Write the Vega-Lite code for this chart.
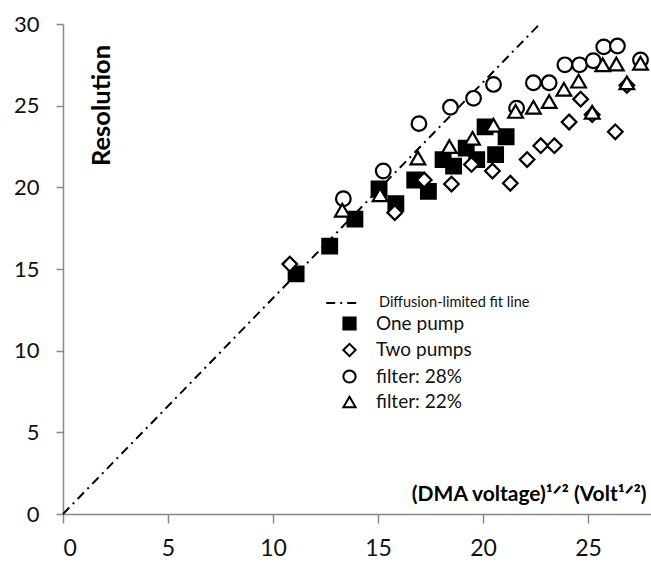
{
  "$schema": "https://vega.github.io/schema/vega-lite/v6.json",
  "width": 588,
  "height": 490,
  "autosize": {"type": "none"},
  "padding": {"left": 63, "top": 24, "right": 0, "bottom": 48},
  "background": "white",
  "config": {
    "view": {"stroke": null},
    "font": "Lato",
    "axis": {"grid": false, "domainColor": "#888", "tickColor": "#888", "domainWidth": 1.5, "tickWidth": 1.5, "labelColor": "#111", "labelFont": "Lato", "titleFont": "Lato", "titleColor": "#000"},
    "legend": {"labelFont": "Lato", "labelColor": "#111"}
  },
  "datasets": {
    "fit": [
      {"x": 0, "y": 0, "name": "Diffusion-limited fit line"},
      {"x": 22.7, "y": 30, "name": "Diffusion-limited fit line"}
    ],
    "pts": [
      {"x": 11.1, "y": 14.7, "series": "One pump"},
      {"x": 12.7, "y": 16.4, "series": "One pump"},
      {"x": 13.9, "y": 18.05, "series": "One pump"},
      {"x": 15.05, "y": 19.9, "series": "One pump"},
      {"x": 15.85, "y": 19.0, "series": "One pump"},
      {"x": 16.75, "y": 20.45, "series": "One pump"},
      {"x": 17.4, "y": 19.75, "series": "One pump"},
      {"x": 18.1, "y": 21.7, "series": "One pump"},
      {"x": 18.6, "y": 21.3, "series": "One pump"},
      {"x": 19.2, "y": 22.4, "series": "One pump"},
      {"x": 19.7, "y": 21.7, "series": "One pump"},
      {"x": 20.1, "y": 23.7, "series": "One pump"},
      {"x": 20.6, "y": 22.0, "series": "One pump"},
      {"x": 21.1, "y": 23.1, "series": "One pump"},
      {"x": 10.8, "y": 15.3, "series": "Two pumps"},
      {"x": 15.8, "y": 18.45, "series": "Two pumps"},
      {"x": 17.2, "y": 20.45, "series": "Two pumps"},
      {"x": 18.5, "y": 20.2, "series": "Two pumps"},
      {"x": 19.45, "y": 21.4, "series": "Two pumps"},
      {"x": 20.45, "y": 21.0, "series": "Two pumps"},
      {"x": 21.3, "y": 20.25, "series": "Two pumps"},
      {"x": 22.1, "y": 21.7, "series": "Two pumps"},
      {"x": 22.75, "y": 22.55, "series": "Two pumps"},
      {"x": 23.4, "y": 22.55, "series": "Two pumps"},
      {"x": 24.1, "y": 24.0, "series": "Two pumps"},
      {"x": 24.65, "y": 25.4, "series": "Two pumps"},
      {"x": 25.2, "y": 24.45, "series": "Two pumps"},
      {"x": 26.3, "y": 23.4, "series": "Two pumps"},
      {"x": 26.85, "y": 26.25, "series": "Two pumps"},
      {"x": 13.35, "y": 19.3, "series": "filter: 28%"},
      {"x": 15.25, "y": 21.0, "series": "filter: 28%"},
      {"x": 16.95, "y": 23.9, "series": "filter: 28%"},
      {"x": 18.45, "y": 24.9, "series": "filter: 28%"},
      {"x": 19.55, "y": 25.45, "series": "filter: 28%"},
      {"x": 20.5, "y": 26.3, "series": "filter: 28%"},
      {"x": 21.6, "y": 24.85, "series": "filter: 28%"},
      {"x": 22.4, "y": 26.4, "series": "filter: 28%"},
      {"x": 23.15, "y": 26.4, "series": "filter: 28%"},
      {"x": 23.9, "y": 27.5, "series": "filter: 28%"},
      {"x": 24.6, "y": 27.5, "series": "filter: 28%"},
      {"x": 25.25, "y": 27.75, "series": "filter: 28%"},
      {"x": 25.75, "y": 28.6, "series": "filter: 28%"},
      {"x": 26.4, "y": 28.65, "series": "filter: 28%"},
      {"x": 27.5, "y": 27.8, "series": "filter: 28%"},
      {"x": 13.3, "y": 18.6, "series": "filter: 22%"},
      {"x": 15.1, "y": 19.55, "series": "filter: 22%"},
      {"x": 16.9, "y": 21.8, "series": "filter: 22%"},
      {"x": 18.4, "y": 22.5, "series": "filter: 22%"},
      {"x": 19.5, "y": 23.0, "series": "filter: 22%"},
      {"x": 20.5, "y": 23.8, "series": "filter: 22%"},
      {"x": 21.55, "y": 24.65, "series": "filter: 22%"},
      {"x": 22.4, "y": 24.9, "series": "filter: 22%"},
      {"x": 23.15, "y": 25.25, "series": "filter: 22%"},
      {"x": 23.85, "y": 26.0, "series": "filter: 22%"},
      {"x": 24.55, "y": 26.5, "series": "filter: 22%"},
      {"x": 25.2, "y": 24.6, "series": "filter: 22%"},
      {"x": 25.7, "y": 27.5, "series": "filter: 22%"},
      {"x": 26.35, "y": 27.55, "series": "filter: 22%"},
      {"x": 26.85, "y": 26.4, "series": "filter: 22%"},
      {"x": 27.5, "y": 27.6, "series": "filter: 22%"}
    ]
  },
  "layer": [
    {
      "data": {"name": "fit"},
      "mark": {"type": "line", "color": "black", "strokeWidth": 2},
      "encoding": {
        "x": {
          "field": "x", "type": "quantitative",
          "scale": {"domain": [0, 28], "nice": false, "zero": true},
          "axis": {
            "values": [0, 5, 10, 15, 20, 25],
            "labelFontSize": 23, "tickSize": 9, "labelPadding": 14,
            "title": "(DMA voltage)¹ᐟ² (Volt¹ᐟ²)",
            "titleFontSize": 21, "titleFontWeight": "bold",
            "titleX": 583, "titleY": -14, "titleAlign": "right", "titleBaseline": "alphabetic", "titleAnchor": null
          }
        },
        "y": {
          "field": "y", "type": "quantitative",
          "scale": {"domain": [0, 30], "nice": false},
          "axis": {
            "values": [0, 5, 10, 15, 20, 25, 30],
            "labelFontSize": 22, "tickSize": 7, "labelPadding": 17,
            "title": "Resolution",
            "titleFontSize": 25.5, "titleFontWeight": "bold",
            "titleAngle": -90, "titleX": 38, "titleY": 81, "titleAlign": "center", "titleBaseline": "middle"
          }
        },
        "strokeDash": {
          "field": "name", "type": "nominal",
          "scale": {"range": [[9, 5, 2, 5]]},
          "legend": {
            "orient": "none", "legendX": 262, "legendY": 262, "title": null,
            "symbolType": "stroke", "symbolSize": 1000, "symbolStrokeWidth": 2, "symbolStrokeColor": "black",
            "labelFontSize": 14.5, "labelOffset": 20, "padding": 0
          }
        }
      }
    },
    {
      "data": {"name": "pts"},
      "mark": {"type": "point", "filled": false, "color": "black", "stroke": "black", "strokeWidth": 2.2, "size": 215, "opacity": 1},
      "encoding": {
        "x": {"field": "x", "type": "quantitative"},
        "y": {"field": "y", "type": "quantitative"},
        "shape": {
          "field": "series", "type": "nominal",
          "scale": {"domain": ["One pump", "Two pumps", "filter: 28%", "filter: 22%"], "range": ["square", "diamond", "circle", "triangle-up"]},
          "legend": {
            "orient": "none", "legendX": 277, "legendY": 290, "title": null,
            "symbolSize": 150, "symbolStrokeWidth": 2,
            "labelFontSize": 19, "labelOffset": 17, "rowPadding": 5.5, "padding": 0
          }
        },
        "fill": {
          "field": "series", "type": "nominal",
          "scale": {"domain": ["One pump", "Two pumps", "filter: 28%", "filter: 22%"], "range": ["black", "white", "white", "white"]},
          "legend": {
            "orient": "none", "legendX": 277, "legendY": 290, "title": null,
            "symbolSize": 150, "symbolStrokeWidth": 2,
            "labelFontSize": 19, "labelOffset": 17, "rowPadding": 5.5, "padding": 0
          }
        }
      }
    }
  ]
}
